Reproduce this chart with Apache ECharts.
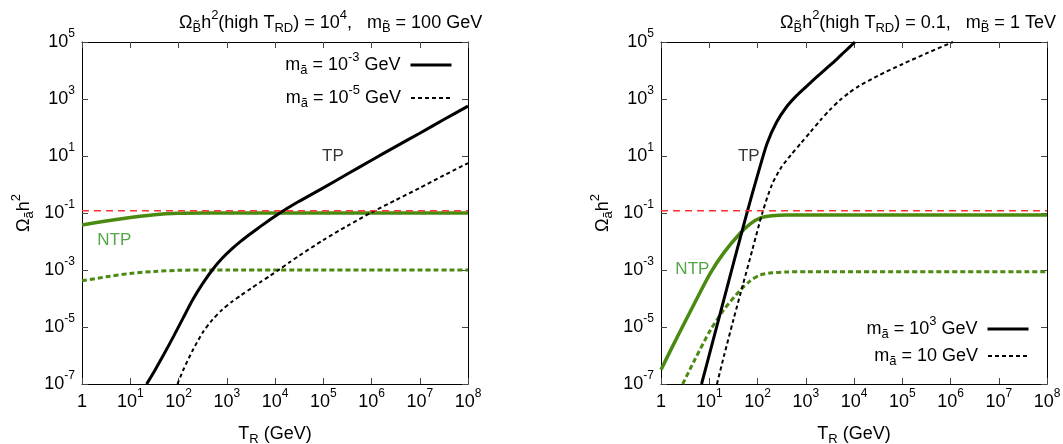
<!DOCTYPE html>
<html><head><meta charset="utf-8">
<script src="https://cdn.jsdelivr.net/npm/echarts/dist/echarts.min.js"></script>
<style>html,body{margin:0;padding:0;background:#fff}#c{width:1063px;height:444px}</style>
</head><body><div id="c"></div>
<script>
// ---------- data (all values are log10 exponents) ----------
const xTickExps = [0,1,2,3,4,5,6,7,8];          // T_R = 10^x GeV
const yTickExps = [-7,-5,-3,-1,1,3,5];          // Omega h^2 = 10^y
const omegaDM = 0.12;                           // red dashed reference line

// Left panel (m_B = 100 GeV), solid: m_a = 1e-3 GeV, dashed: m_a = 1e-5 GeV
const L_tpSolid_logT   = [1.34,1.5,1.7,1.9,2.1,2.3,2.5,2.7,2.9,3.1,3.3,3.5,3.7,3.9,4.1,4.3,4.5,5.0,5.5,6.0,6.5,7.0,7.5,8.0];
const L_tpSolid_logO   = [-7.0,-6.55,-5.95,-5.32,-4.67,-4.03,-3.48,-3.0,-2.6,-2.27,-1.98,-1.72,-1.47,-1.23,-1.0,-0.79,-0.59,-0.12,0.37,0.85,1.33,1.8,2.28,2.75];
const L_tpDash_logT    = [1.98,2.1,2.3,2.5,2.7,2.9,3.1,3.3,3.5,3.7,3.9,4.1,4.3,4.5,5.0,5.5,6.0,6.5,7.0,7.5,8.0];
const L_tpDash_logO    = [-7.0,-6.5,-5.8,-5.2,-4.75,-4.4,-4.12,-3.88,-3.65,-3.42,-3.2,-2.97,-2.73,-2.5,-1.95,-1.45,-0.98,-0.55,-0.12,0.32,0.75];
const L_ntpSolid_logT  = [0,0.5,1,1.5,2,2.5,3,8];
const L_ntpSolid_logO  = [-1.42,-1.28,-1.16,-1.06,-1.01,-1.0,-1.0,-1.0];
const L_ntpDash_logT   = [0,0.5,1,1.5,2,2.5,3,8];
const L_ntpDash_logO   = [-3.38,-3.24,-3.12,-3.05,-3.01,-3.0,-3.0,-3.0];

// Right panel (m_B = 1 TeV), solid: m_a = 1e3 GeV, dashed: m_a = 10 GeV
const R_tpSolid_logT   = [0.84,1.0,1.2,1.4,1.6,1.8,2.0,2.2,2.4,2.6,2.8,3.0,3.2,3.4,3.6,3.8,4.02];
const R_tpSolid_logO   = [-7.0,-5.98,-4.7,-3.42,-2.14,-0.88,0.32,1.45,2.2,2.72,3.1,3.42,3.73,4.03,4.33,4.65,5.0];
const R_tpDash_logT    = [1.16,1.3,1.5,1.7,1.9,2.1,2.3,2.5,2.7,2.9,3.1,3.3,3.5,3.7,3.9,4.1,4.5,5.0,5.5,6.05];
const R_tpDash_logO    = [-7.0,-6.05,-4.75,-3.5,-2.25,-1.0,0.0,0.62,1.05,1.45,1.85,2.25,2.62,2.95,3.22,3.45,3.82,4.22,4.6,5.0];
const R_ntpSolid_logT  = [0,0.34,0.7,1.02,1.3,1.64,1.85,2.05,2.3,2.6,3,8];
const R_ntpSolid_logO  = [-6.5,-5.34,-4.15,-3.12,-2.4,-1.71,-1.38,-1.18,-1.1,-1.07,-1.07,-1.07];
const R_ntpDash_logT   = [0.45,0.7,1.02,1.3,1.64,1.85,2.05,2.3,2.6,3,8];
const R_ntpDash_logO   = [-7.0,-6.15,-5.12,-4.4,-3.71,-3.38,-3.18,-3.1,-3.07,-3.06,-3.06];

// annotation anchors (data coords)
const L_labels = [{text:'TP', logT:5.2, logO:1.0, kind:'tp'}, {text:'NTP', logT:0.67, logO:-1.96, kind:'ntp'}];
const R_labels = [{text:'TP', logT:1.82, logO:1.0, kind:'tp'}, {text:'NTP', logT:0.65, logO:-2.96, kind:'ntp'}];

// ---------- chart ----------
const FONT = 'Liberation Sans';
const BLACK = '#000', GREEN = '#4a8a10', NTPTXT = '#2a8f1c', RED = '#ff3030';
const zip = (a,b) => a.map((v,i)=>[v,b[i]]);

const tickRich = {
  b:{fontSize:18, fontFamily:FONT, color:'#000', lineHeight:30, fontWeight:'normal'},
  s:{fontSize:12, fontFamily:FONT, color:'#000', padding:[0,0,17,0], fontWeight:'normal'}
};
const txtRich = {
  t:{fontSize:18, fontFamily:FONT, color:'#000', lineHeight:30, fontWeight:'normal'},
  sub:{fontSize:13, fontFamily:FONT, color:'#000', padding:[11,0,0,0], fontWeight:'normal'},
  sup:{fontSize:13, fontFamily:FONT, color:'#000', padding:[0,0,15,0], fontWeight:'normal'},
  e:{fontSize:18, fontFamily:FONT, color:'#000', padding:[0,5,0,0], lineHeight:30, fontWeight:'normal'}
};
const xLab = v => v===0 ? '{b|1}' : '{b|10}{s|'+v+'}';
const yLab = v => '{b|10}{s|'+v+'}';

function xAxes(g){
  const common = {type:'value', gridIndex:g, min:xTickExps[0], max:xTickExps[xTickExps.length-1], interval:1,
    axisLine:{show:true,onZero:false,lineStyle:{color:'#000',width:1}},
    axisTick:{show:true,inside:true,length:6,lineStyle:{color:'#444'}},
    splitLine:{show:false}};
  return [
    Object.assign({}, common, {position:'bottom',
      axisLabel:{margin:3, formatter:xLab, rich:tickRich},
      name:'{t|T}{sub|R}{t| (GeV)}', nameLocation:'middle', nameGap:35,
      nameTextStyle:{rich:txtRich}}),
    Object.assign({}, common, {position:'top', axisLabel:{show:false}})
  ];
}
function yAxes(g){
  const common = {type:'value', gridIndex:g, min:yTickExps[0], max:yTickExps[yTickExps.length-1], interval:2,
    axisLine:{show:true,onZero:false,lineStyle:{color:'#000',width:1}},
    axisTick:{show:true,inside:true,length:6,lineStyle:{color:'#444'}},
    splitLine:{show:false}};
  return [
    Object.assign({}, common, {position:'left',
      axisLabel:{margin:7, formatter:yLab, rich:tickRich},
      name:'{t|Ω}{sub|ã}{t|h}{sup|2}', nameLocation:'middle', nameGap:43,
      nameTextStyle:{rich:txtRich}}),
    Object.assign({}, common, {position:'right', axisLabel:{show:false}})
  ];
}

function lineSeries(name, xi, logT, logO, color, width, type, z){
  return {type:'line', name:name, xAxisIndex:xi, yAxisIndex:xi, data:zip(logT,logO),
    symbol:'none', smooth:0.25, z:z||2,
    lineStyle:{color:color, width:width, type:type}, itemStyle:{color:color}};
}
function dmSeries(xi){
  const y = Math.log10(omegaDM);
  return {type:'line', name:'dm'+xi, xAxisIndex:xi, yAxisIndex:xi, symbol:'none', z:5,
    data:[[xTickExps[0],y],[xTickExps[xTickExps.length-1],y]],
    lineStyle:{color:RED,width:1.5,type:[7,5]}};
}
function labelSeries(xi, labels){
  return {type:'scatter', xAxisIndex:xi, yAxisIndex:xi, symbolSize:0, z:6, silent:true,
    data:labels.map(l=>({value:[l.logT,l.logO], name:l.text,
      label:{color: l.kind==='ntp'?NTPTXT:'#000'}})),
    label:{show:true, position:'inside', formatter:p=>p.name, fontSize:17, fontFamily:FONT}};
}

const legendText = {
  L_m3:'{t|m}{sub|ã}{t| = 10}{sup|-3}{e| GeV}',
  L_m5:'{t|m}{sub|ã}{t| = 10}{sup|-5}{e| GeV}',
  R_m1000:'{t|m}{sub|ã}{t| = 10}{sup|3}{e| GeV}',
  R_m10:'{t|m}{sub|ã}{e| = 10 GeV}'
};
function legend(name, right, top, width, type){
  return {data:[name], right:right, top:top, orient:'horizontal', align:'right', padding:0,
    itemWidth:41, itemHeight:10, selectedMode:false,
    lineStyle:{width:width, type:type, color:'#000'},
    itemStyle:{opacity:0, color:'rgba(0,0,0,0)', borderWidth:0},
    formatter:n=>legendText[n], textStyle:{rich:txtRich}};
}

const option = {
  animation:false,
  backgroundColor:'#fff',
  title:[
    {text:'{t|Ω}{sub|B̃}{t|h}{sup|2}{t|(high T}{sub|RD}{t|) = 10}{sup|4}{t|,   m}{sub|B̃}{t| = 100 GeV}',
     left:179, top:8, padding:0, textStyle:{rich:txtRich, fontWeight:'normal'}},
    {text:'{t|Ω}{sub|B̃}{t|h}{sup|2}{t|(high T}{sub|RD}{t|) = 0.1,   m}{sub|B̃}{t| = 1 TeV}',
     left:780, top:8, padding:0, textStyle:{rich:txtRich, fontWeight:'normal'}}
  ],
  grid:[
    {left:82, top:42, width:386, height:342, outerBoundsMode:'none', containLabel:false},
    {left:661, top:42, width:386, height:342, outerBoundsMode:'none', containLabel:false}
  ],
  xAxis:[...xAxes(0), ...xAxes(1)].map((a,i)=>Object.assign(a,{gridIndex: i<2?0:1})),
  yAxis:[...yAxes(0), ...yAxes(1)].map((a,i)=>Object.assign(a,{gridIndex: i<2?0:1})),
  legend:[
    legend('L_m3', 610, 51, 3, 'solid'),
    legend('L_m5', 610, 84, 2, [4,3]),
    legend('R_m1000', 33, 315, 3, 'solid'),
    legend('R_m10', 33, 347, 2, [4,3])
  ],
  series:[
    lineSeries('L_ntpS', 0, L_ntpSolid_logT, L_ntpSolid_logO, GREEN, 3.5, 'solid', 2),
    lineSeries('L_ntpD', 0, L_ntpDash_logT, L_ntpDash_logO, GREEN, 3, [5,3], 2),
    lineSeries('L_m3', 0, L_tpSolid_logT, L_tpSolid_logO, BLACK, 3, 'solid', 3),
    lineSeries('L_m5', 0, L_tpDash_logT, L_tpDash_logO, BLACK, 2, [4,3], 3),
    dmSeries(0),
    labelSeries(0, L_labels),
    lineSeries('R_ntpS', 2, R_ntpSolid_logT, R_ntpSolid_logO, GREEN, 3.5, 'solid', 2),
    lineSeries('R_ntpD', 2, R_ntpDash_logT, R_ntpDash_logO, GREEN, 3, [5,3], 2),
    lineSeries('R_m1000', 2, R_tpSolid_logT, R_tpSolid_logO, BLACK, 3, 'solid', 3),
    lineSeries('R_m10', 2, R_tpDash_logT, R_tpDash_logO, BLACK, 2, [4,3], 3),
    dmSeries(2),
    labelSeries(2, R_labels)
  ]
};
const chart = echarts.init(document.getElementById('c'));
chart.setOption(option);
</script>
</body></html>
